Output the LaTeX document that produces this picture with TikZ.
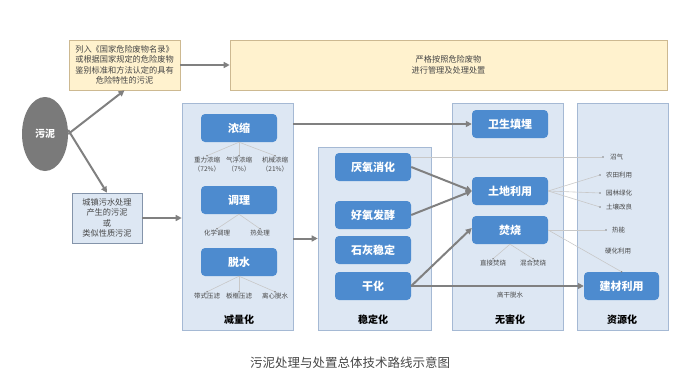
\documentclass[tikz,border=0pt]{standalone}
\usepackage{fontspec}
\setmainfont{Noto Sans CJK SC}
\usepackage{tikz}
\usetikzlibrary{shapes,arrows.meta,positioning,calc}

\definecolor{panelfill}{RGB}{221,231,243}
\definecolor{panelline}{RGB}{165,185,212}
\definecolor{boxblue}{RGB}{77,139,207}
\definecolor{notefill}{RGB}{255,242,206}
\definecolor{noteline}{RGB}{205,185,145}
\definecolor{arrowgray}{RGB}{128,128,128}
\definecolor{thingray}{RGB}{200,200,200}
\definecolor{textgray}{RGB}{70,70,70}

\begin{document}
\begin{tikzpicture}[x=1pt, y=-1pt,
  panel/.style={rectangle, draw=panelline, fill=panelfill, line width=0.6pt,
    inner sep=0pt},
  stepbox/.style={rectangle, rounded corners=4pt, fill=boxblue, text=white,
    minimum width=76pt, minimum height=28pt, inner sep=0pt,
    font=\fontsize{11}{13}\selectfont\bfseries},
  notebox/.style={rectangle, draw=noteline, fill=notefill, line width=0.6pt,
    align=center, inner sep=0pt, text=textgray,
    font=\fontsize{8.2}{10.3}\selectfont},
  sub/.style={align=center, inner sep=1pt, text=textgray,
    font=\fontsize{6.5}{9}\selectfont},
  stage/.style={font=\fontsize{10}{12}\selectfont\bfseries, text=black},
  dot/.style={circle, fill=arrowgray, inner sep=0pt, minimum size=1.6pt},
  arrow/.style={-{Triangle[length=6pt,width=6pt]}, line width=2pt,
    draw=arrowgray, fill=arrowgray},
  thin/.style={draw=thingray, line width=0.6pt}]
  \useasboundingbox (0,0) rectangle (682,380);

  % source and the two classes
  \node[ellipse, fill=arrowgray!95!black, minimum width=46pt,
    minimum height=74pt, inner sep=0pt, text=white,
    font=\fontsize{10}{12}\selectfont\bfseries] (wn) at (45,134) {污泥};
  \node[notebox, minimum width=111pt, minimum height=50pt] (wfml)
    at (124.5,65) {列入《国家危险废物名录》\\或根据国家规定的危险废物\\
    鉴别标准和方法认定的具有\\危险特性的污泥};
  \node[notebox, minimum width=437pt, minimum height=50pt] (yg)
    at (448.5,65) {严格按照危险废物\\进行管理及处理处置};
  \node[notebox, draw=panelline!80!black, fill=panelfill,
    minimum width=70pt, minimum height=50pt] (czwn)
    at (107,218) {城镇污水处理\\产生的污泥\\或\\类似性质污泥};

  % stage panels
  \node[panel, minimum width=111pt, minimum height=227pt] (jl) at (237.5,216.5) {};
  \node[panel, minimum width=113pt, minimum height=183pt] (wd) at (374.5,238.5) {};
  \node[panel, minimum width=111pt, minimum height=227pt] (wh) at (507.5,216.5) {};
  \node[panel, minimum width=91pt, minimum height=227pt] (zy) at (622.5,216.5) {};
  \node[stage] (jlt) at (239,320) {减量化};
  \node[stage] (wdt) at (373,320) {稳定化};
  \node[stage] (wht) at (510,320) {无害化};
  \node[stage] (zyt) at (622,320) {资源化};

  % reduction
  \node[stepbox] (nz) at (239,128) {浓缩};
  \node[sub] (zl) at (207,164.5) {重力浓缩\\（72\%）};
  \node[sub] (qf) at (239,164.5) {气浮浓缩\\（7\%）};
  \node[sub] (jx) at (275,164.5) {机械浓缩\\（21\%）};
  \node[stepbox] (tl) at (239,200) {调理};
  \node[sub] (hx) at (217,233) {化学调理};
  \node[sub] (rc) at (260,233) {热处理};
  \node[stepbox] (ts) at (239,262) {脱水};
  \node[sub] (dsy) at (207,296) {带式压滤};
  \node[sub] (bky) at (239,296) {板框压滤};
  \node[sub] (lxt) at (275,296) {离心脱水};

  % stabilisation
  \node[stepbox] (yyxh) at (373,167) {厌氧消化};
  \node[stepbox] (hyfj) at (373,215) {好氧发酵};
  \node[stepbox] (shwd) at (373,250) {石灰稳定};
  \node[stepbox] (gh) at (373,286) {干化};

  % harmless
  \node[stepbox] (wsty) at (510,124) {卫生填埋};
  \node[stepbox] (tdly) at (510,191) {土地利用};
  \node[stepbox] (fs) at (510,230) {焚烧};
  \node[sub] (zjfs) at (493,263) {直接焚烧};
  \node[sub] (hhfs) at (533,263) {混合焚烧};
  \node[sub] (ggts) at (510,295) {高干脱水};

  % resources
  \node[stepbox, minimum width=75pt] (jc) at (621.5,286) {建材利用};
  \node[dot] (dzq) at (603,157) {};
  \node[sub, right=5pt of dzq] (zq) {沼气};
  \node[dot] (dnt) at (600,175) {};
  \node[sub, right=4pt of dnt] (nt) {农田利用};
  \node[dot] (dyl) at (600,193) {};
  \node[sub, right=4pt of dyl] (yl) {园林绿化};
  \node[dot] (dtr) at (600,207) {};
  \node[sub, right=4pt of dtr] (tr) {土壤改良};
  \node[dot] (drn) at (606,230) {};
  \node[sub, right=4pt of drn] (rn) {热能};
  \node[sub] (yh) at (618,251) {硬化利用};
  \node[dot] (djc) at (jc.north) {};

  % thick routes
  \draw[arrow] (wn.east) -- (wfml.south);
  \draw[arrow] ([yshift=4pt]wn.east) -- (czwn.north);
  \draw[arrow] (wfml.east) -- (yg.west);
  \draw[arrow] (czwn.east) -- (czwn.east -| jl.west);
  \draw[arrow] (jl.east |- wsty.west) -- (wsty.west);
  \draw[arrow] (jl.east |- wd.west) -- (wd.west);
  \draw[arrow] (yyxh.east) -- (tdly.west);
  \draw[arrow] (hyfj.east) -- (tdly.west);
  \draw[arrow] (gh.east) -- ([yshift=2pt]fs.west);
  \draw[arrow] (gh.east) -- (jc.west);

  % thin branches
  \foreach \s in {zl,qf,jx} {
    \draw[thin] (nz.south) -- (\s.north);
    \node[dot] at (\s.north) {};
  }
  \foreach \s in {hx,rc} {
    \draw[thin] (tl.south) -- (\s.north);
    \node[dot] at (\s.north) {};
  }
  \foreach \s in {dsy,bky,lxt} {
    \draw[thin] (ts.south) -- (\s.north);
    \node[dot] at (\s.north) {};
  }
  \foreach \s in {zjfs,hhfs} {
    \draw[thin] (fs.south) -- (\s.north);
    \node[dot] at (\s.north) {};
  }
  \draw[thin] (yyxh.east |- dzq) -- (dzq);
  \foreach \s in {dnt,dyl,dtr}
    \draw[thin] (tdly.east) -- (\s);
  \draw[thin] (fs.east) -- (drn);
  \draw[thin] (fs.east) -- (djc);

  \node[text=textgray, font=\fontsize{12.5}{14}\selectfont] (cap)
    at (350,363) {污泥处理与处置总体技术路线示意图};
\end{tikzpicture}
\end{document}
